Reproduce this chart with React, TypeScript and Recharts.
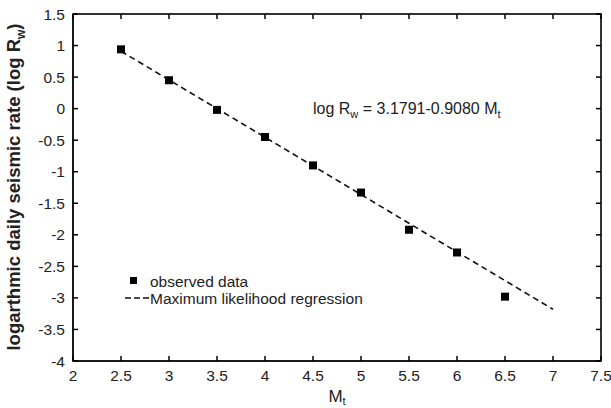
import React from 'react';
import { ScatterChart, Scatter, XAxis, YAxis } from 'recharts';

const magnitudes = [2.5, 3, 3.5, 4, 4.5, 5, 5.5, 6, 6.5];
const logRates = [0.94, 0.45, -0.02, -0.45, -0.9, -1.33, -1.92, -2.28, -2.98];
const regressionX = [2.5, 7];
const regressionY = [0.91, -3.18];
const xTicks = [2, 2.5, 3, 3.5, 4, 4.5, 5, 5.5, 6, 6.5, 7, 7.5];
const yTicks = [1.5, 1, 0.5, 0, -0.5, -1, -1.5, -2, -2.5, -3, -3.5, -4];
const xDomain = [2, 7.5];
const yDomain = [-4, 1.5];

const observed = magnitudes.map((m, i) => ({ x: m, y: logRates[i] }));
const regression = regressionX.map((m, i) => ({ x: m, y: regressionY[i] }));

const W = 611;
const H = 408;
const M = { top: 14, right: 10, bottom: 0, left: 0 };
const X_AXIS_H = 47;
const Y_AXIS_W = 73;
const PL = M.left + Y_AXIS_W;
const PR = W - M.right;
const PT = M.top;
const PB = H - M.bottom - X_AXIS_H;
const sx = (v: number) => PL + ((v - xDomain[0]) / (xDomain[1] - xDomain[0])) * (PR - PL);
const sy = (v: number) => PB - ((v - yDomain[0]) / (yDomain[1] - yDomain[0])) * (PB - PT);

const FONT = 'Liberation Sans, Arial, sans-serif';
const tickStyle = { fontSize: 15.5, fill: '#222', fontFamily: FONT };
const TL = 5;

export default function App() {
  return (
    <div style={{ position: 'absolute', left: 0, top: 0, width: W, height: H, background: '#fff' }}>
      <ScatterChart width={W} height={H} margin={M}>
        <XAxis
          type="number"
          dataKey="x"
          domain={xDomain}
          ticks={xTicks}
          height={X_AXIS_H}
          stroke="#000"
          axisLine
          tickLine={false}
          tickSize={0}
          tickMargin={8.5}
          tick={tickStyle}
          interval={0}
        />
        <YAxis
          type="number"
          dataKey="y"
          domain={yDomain}
          ticks={yTicks}
          width={Y_AXIS_W}
          stroke="#000"
          axisLine
          tickLine={false}
          tickSize={0}
          tickMargin={8}
          tick={tickStyle}
          interval={0}
        />
        <Scatter
          data={regression}
          line={{ stroke: '#111', strokeWidth: 1.6, strokeDasharray: '6 4' }}
          shape={() => null}
          isAnimationActive={false}
        />
        <Scatter
          data={observed}
          fill="#000"
          shape="square"
          size={49}
          isAnimationActive={false}
        />
      </ScatterChart>
      <svg
        width={W}
        height={H}
        style={{ position: 'absolute', left: 0, top: 0, pointerEvents: 'none' }}
        fontFamily={FONT}
      >
        <rect x={PL} y={PT} width={PR - PL} height={PB - PT} fill="none" stroke="#000" strokeWidth={1.6} />
        {xTicks.map((v) => (
          <g key={'x' + v}>
            <line x1={sx(v)} y1={PB} x2={sx(v)} y2={PB - TL} stroke="#000" strokeWidth={1.5} />
            <line x1={sx(v)} y1={PT} x2={sx(v)} y2={PT + TL} stroke="#000" strokeWidth={1.5} />
          </g>
        ))}
        {yTicks.map((v) => (
          <g key={'y' + v}>
            <line x1={PL} y1={sy(v)} x2={PL + TL} y2={sy(v)} stroke="#000" strokeWidth={1.5} />
            <line x1={PR} y1={sy(v)} x2={PR - TL} y2={sy(v)} stroke="#000" strokeWidth={1.5} />
          </g>
        ))}
        <text x={313} y={114} fontSize={16} fill="#222">
          log R<tspan fontSize={11} dy={4}>w</tspan>
          <tspan dy={-4}> = 3.1791-0.9080 M</tspan>
          <tspan fontSize={11} dy={4}>t</tspan>
        </text>
        <rect x={130} y={277} width={7} height={7} fill="#000" />
        <text x={150} y={286.5} fontSize={15.5} fill="#222">observed data</text>
        <line x1={125} y1={298} x2={149} y2={298} stroke="#111" strokeWidth={1.6} strokeDasharray="6 3" />
        <text x={150} y={303.5} fontSize={15.5} fill="#222">Maximum likelihood regression</text>
        <text
          transform="translate(20,187) rotate(-90)"
          textAnchor="middle"
          fontSize={18.5}
          fontWeight="bold"
          fill="#222"
        >
          logarthmic daily seismic rate (log R<tspan fontSize={12} dy={5}>w</tspan>
          <tspan dy={-5}>)</tspan>
        </text>
        <text x={337} y={402} textAnchor="middle" fontSize={17} fill="#222">
          M<tspan fontSize={11} dy={3}>t</tspan>
        </text>
      </svg>
    </div>
  );
}
